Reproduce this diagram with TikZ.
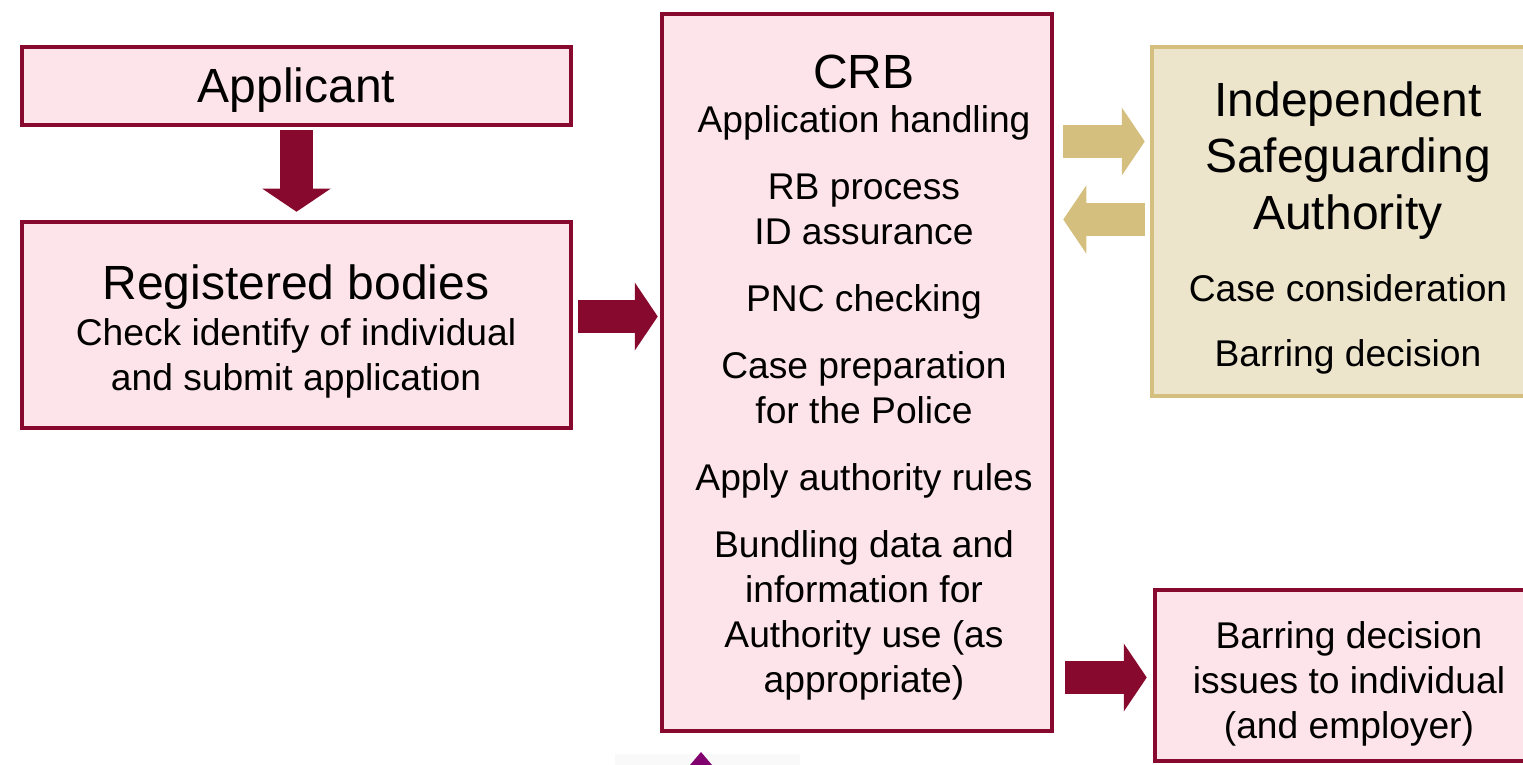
\documentclass[tikz,border=0pt]{standalone}
\usepackage{fontspec}
\setmainfont{Liberation Sans}
\usetikzlibrary{arrows.meta}
\definecolor{crbred}{HTML}{870A2E}
\definecolor{crbpink}{HTML}{FDE4EA}
\definecolor{isagold}{HTML}{D4BF7E}
\definecolor{isacream}{HTML}{EDE4CC}
\begin{document}
\begin{tikzpicture}[x=0.5pt,y=-0.5pt,
  big/.style={font=\fontsize{24}{28.25}\selectfont,align=center},
  small/.style={font=\fontsize{18.6}{22.5}\selectfont,align=center},
  redbox/.style={draw=crbred,fill=crbpink,line width=2.25pt,inner sep=0pt},
  goldbox/.style={draw=isagold,fill=isacream,line width=2.25pt,inner sep=0pt},
  redarrow/.style={draw=crbred,line width=16.75pt,-{Triangle[width=33.5pt,length=11.5pt]}},
  goldarrow/.style={draw=isagold,line width=16.5pt,-{Triangle[width=33.5pt,length=11.5pt]}}]
\useasboundingbox (0,0) rectangle (1523,765);
% boxes
\node[redbox,minimum width=274.5pt,minimum height=39pt](app) at (296.5,86){};
\node[redbox,minimum width=274.5pt,minimum height=103pt](rb) at (296.5,325){};
\node[redbox,minimum width=195pt,minimum height=358.5pt](crb) at (857,372.5){};
\node[goldbox,minimum width=196.5pt,minimum height=174.5pt](isa) at (1348.5,221.5){};
\node[redbox,minimum width=195pt,minimum height=85.5pt](bar) at (1350,675.5){};
% texts
\node[big](apptext) at (296.5,90){Applicant};
\node[big](rbtitle) at (296,287){Registered bodies};
\node[small](rbtext) at (296,358){Check identify of individual\\and submit application};
\node[big](crbtitle) at (864,72){CRB};
\node[small](crbtext) at (864,402.5){Application handling\\[11pt]
  RB process\\ID assurance\\[11pt]
  PNC checking\\[11pt]
  Case preparation\\for the Police\\[11pt]
  Apply authority rules\\[11pt]
  Bundling data and\\information for\\Authority use (as\\appropriate)};
\node[big](isatitle) at (1348,160.5){Independent\\Safeguarding\\Authority};
\node[small](isatext) at (1348,324){Case consideration\\[10pt]Barring decision};
\node[small](bartext) at (1349,684){Barring decision\\issues to individual\\(and employer)};
% arrows
\draw[redarrow,shorten <=1.5pt,shorten >=4pt](app.south)--(rb.north);
\coordinate (a1) at ([yshift=4.25pt]rb.east);
\draw[redarrow,shorten <=2.5pt,shorten >=1pt](a1)--(a1 -| crb.west);
\coordinate (g1) at ([yshift=40pt]isa.west);
\draw[goldarrow,shorten <=4.5pt,shorten >=2.5pt](g1 -| crb.east)--(g1);
\coordinate (g2) at ([yshift=1pt]isa.west);
\draw[goldarrow,shorten <=2.5pt,shorten >=4.5pt](g2)--(g2 -| crb.east);
\coordinate (b1) at ([yshift=-1pt]bar.west);
\draw[redarrow,shorten <=5.5pt,shorten >=3pt](b1 -| crb.east)--(b1);
% cut-off piece at the bottom
\fill[gray!5](615,754) rectangle (800,765);
\fill[violet!80!crbred](690,765)--(701,752)--(712,765)--cycle;
\end{tikzpicture}
\end{document}
